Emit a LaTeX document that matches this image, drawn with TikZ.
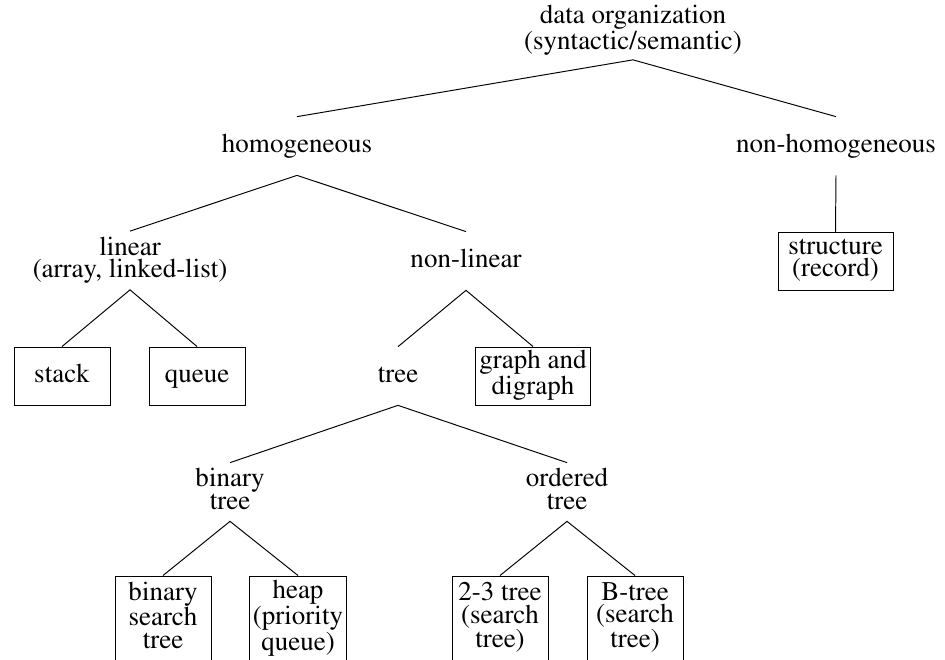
\documentclass[tikz,border=0pt]{standalone}
\usepackage[T1]{fontenc}
\renewcommand\rmdefault{ptm}
\usepackage{tikz}

\newcommand\lblfont{\fontsize{15.37pt}{12.8pt}\selectfont}
\newcommand\lstrut{\rule[-0.25em]{0pt}{0.95em}}

\begin{document}
\begin{tikzpicture}[
  lbl/.style={align=center, font=\lblfont, inner xsep=2pt, inner ysep=0pt, minimum height=1.16cm,
    execute at begin node=\lstrut, execute at end node=\lstrut},
  box/.style={lbl, draw, line width=0.55pt, minimum width=1.92cm},
  wide/.style={box, minimum width=2.3cm},
  leaf/.style={box, minimum height=1.7cm},
  conn/.style={line width=0.55pt}
]
\useasboundingbox (0,0) rectangle (18.9,-13.2);

% top levels
\node[lbl] (root) at (12.66,-0.61) {data organization\\(syntactic/semantic)};
\node[lbl] (homog) at (5.94,-2.92) {homogeneous};
\node[lbl] (nonhom) at (16.72,-2.92) {non-homogeneous};

\node[lbl] (linear) at (2.60,-5.21) {linear\\(array, linked-list)};
\node[lbl] (nonlin) at (9.32,-5.22) {non-linear};
\node[wide] (record) at (16.71,-5.23) {structure\\(record)};

\node[box] (stack) at (1.24,-7.52) {stack};
\node[box] (queue) at (3.94,-7.52) {queue};
\node[lbl] (tree) at (7.96,-7.52) {tree};
\node[wide] (graph) at (10.66,-7.52) {graph and\\digraph};

% trees
\node[lbl] (bintree) at (4.60,-9.84) {binary\\tree};
\node[lbl] (ordtree) at (11.34,-9.84) {ordered\\tree};

\node[leaf] (bst) at (3.26,-12.37) {binary\\search\\tree};
\node[leaf] (heap) at (5.96,-12.37) {heap\\(priority\\queue)};
\node[leaf] (twothree) at (10.00,-12.37) {2-3 tree\\(search\\tree)};
\node[leaf] (btree) at (12.70,-12.37) {B-tree\\(search\\tree)};

\draw[conn] (homog.north) -- (root.south) -- (nonhom.north);
\draw[conn] (nonhom.south) -- (record.north);
\draw[conn] (linear.north) -- (homog.south) -- (nonlin.north);
\draw[conn] (stack.north) -- (linear.south) -- (queue.north);
\draw[conn] (tree.north) -- (nonlin.south) -- (graph.north);
\draw[conn] (bintree.north) -- (tree.south) -- (ordtree.north);
\draw[conn] (bst.north) -- (bintree.south) -- (heap.north);
\draw[conn] (twothree.north) -- (ordtree.south) -- (btree.north);

\end{tikzpicture}
\end{document}
